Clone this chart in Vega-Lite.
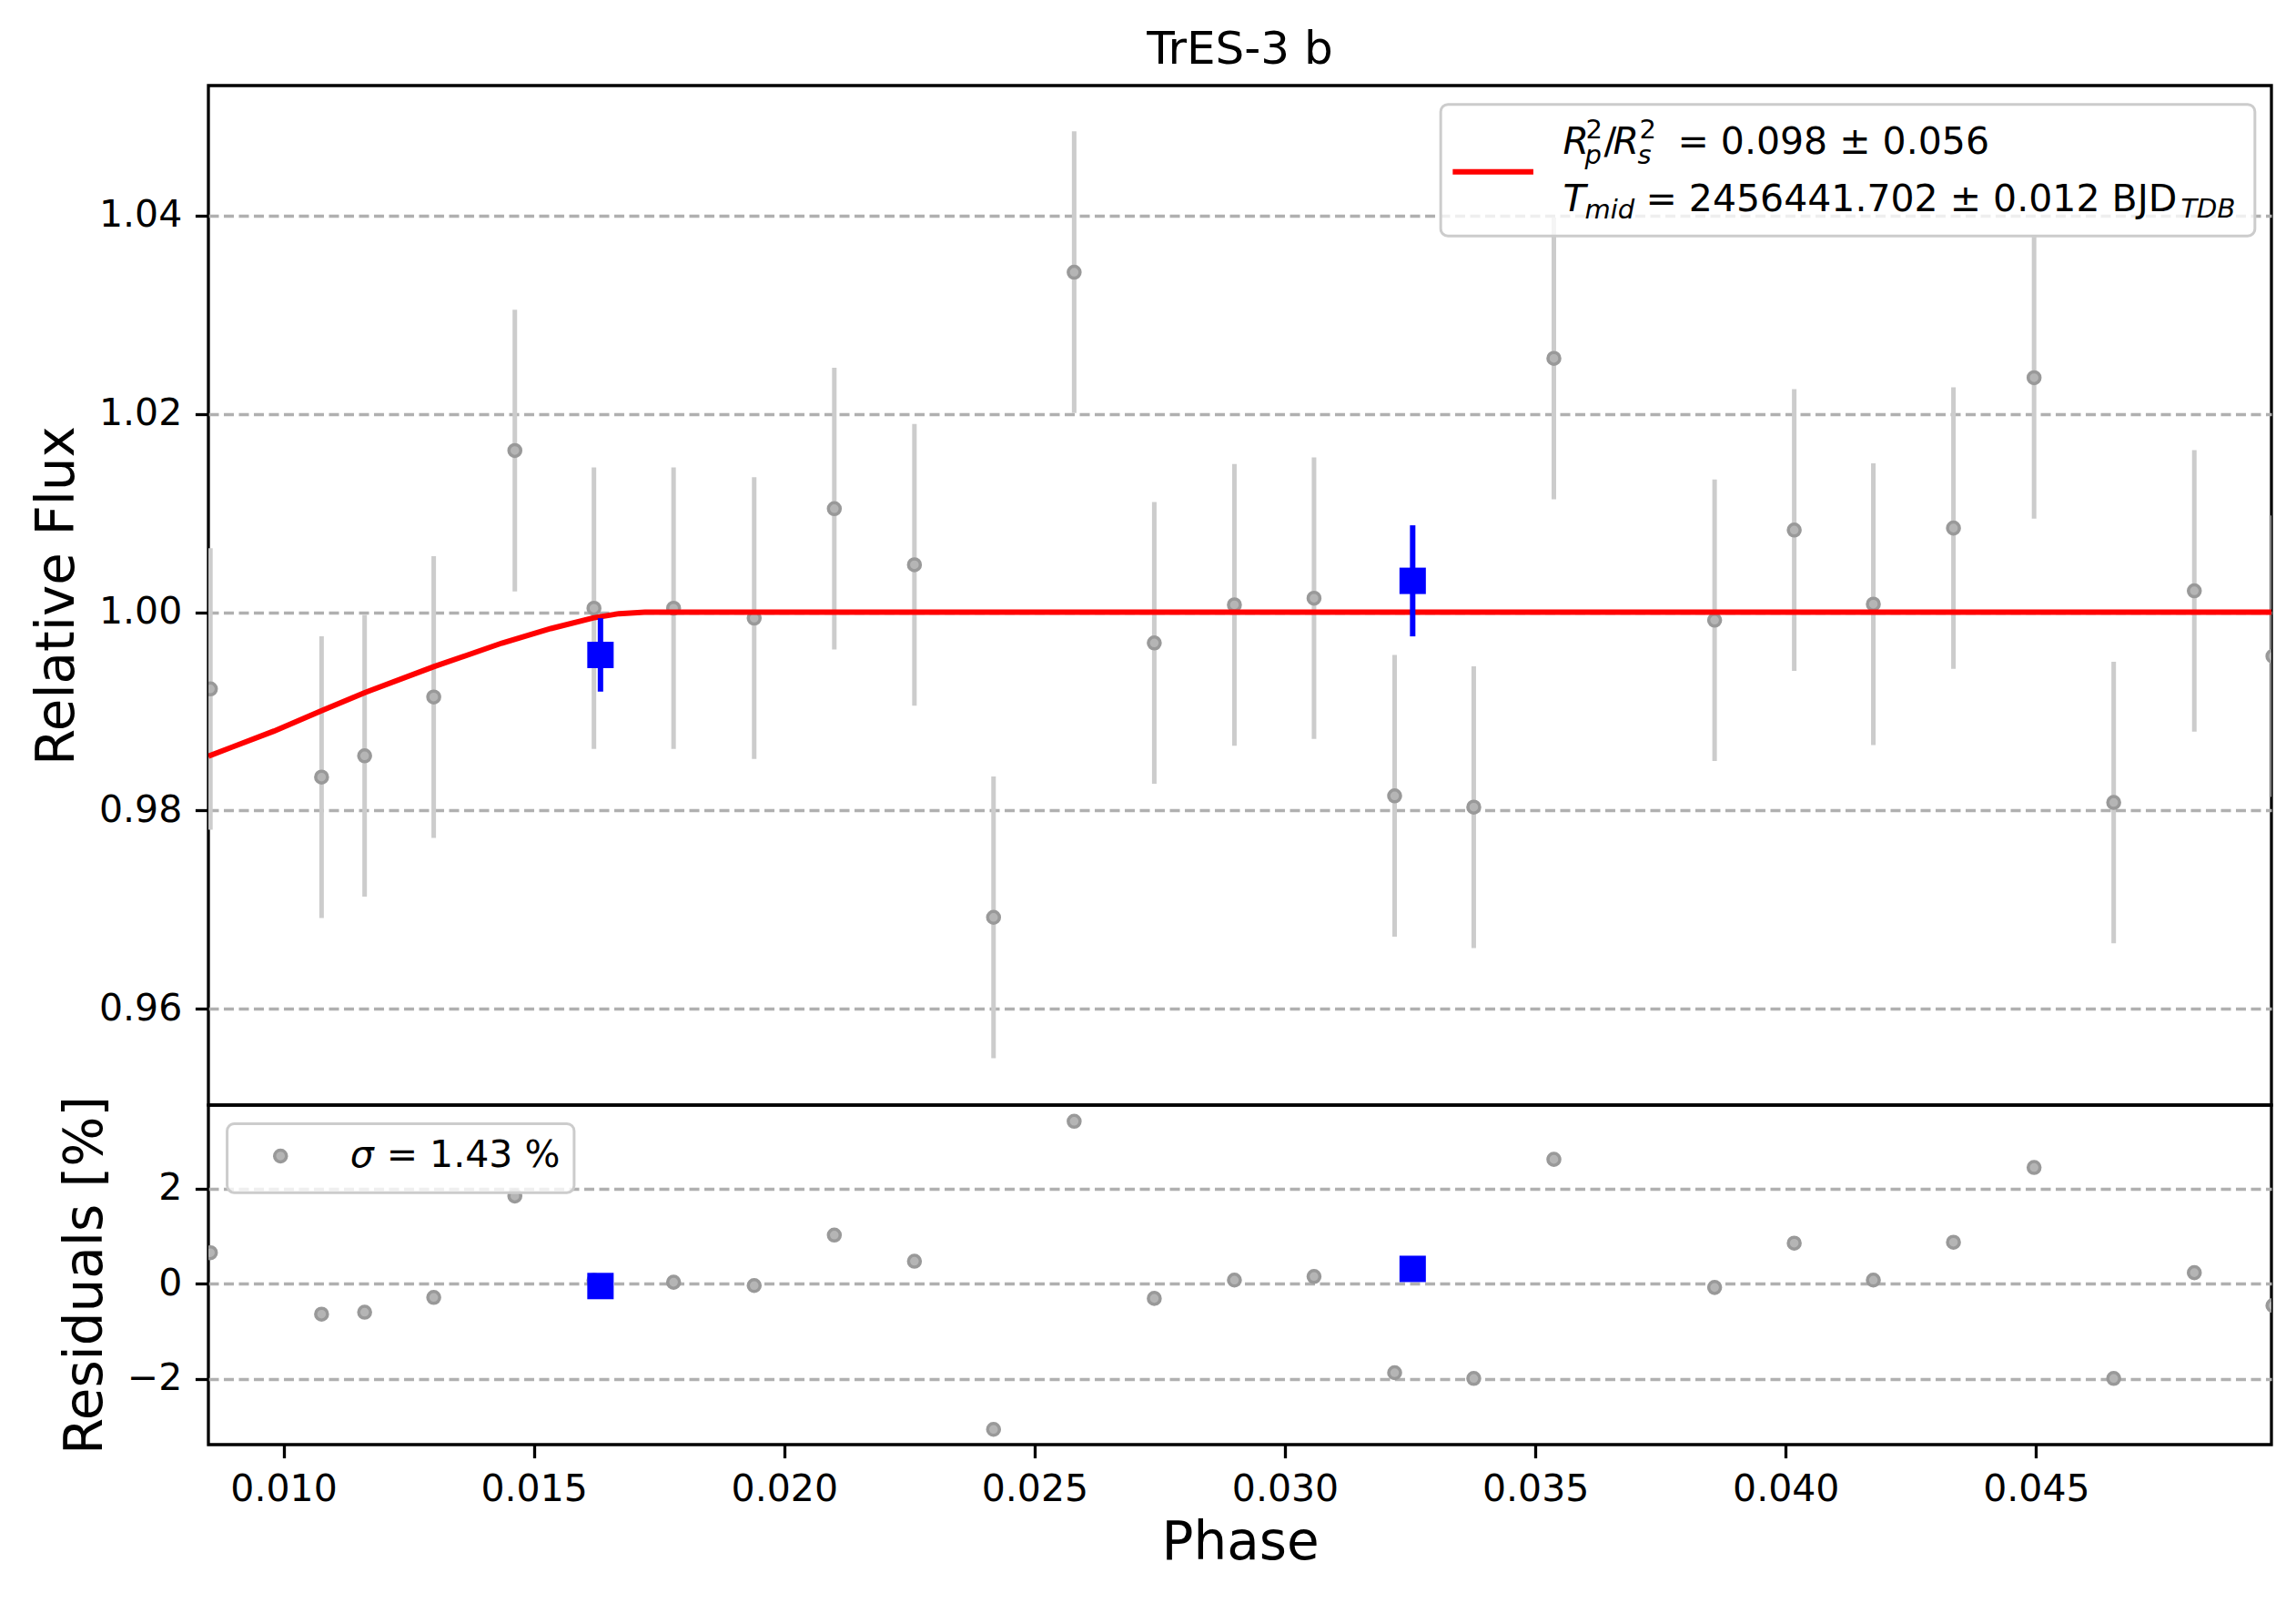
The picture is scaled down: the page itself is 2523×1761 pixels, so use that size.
{
  "$schema": "https://vega.github.io/schema/vega-lite/v6.json",
  "background": "white",
  "padding": {"left": 32, "top": 28, "right": 29, "bottom": 20},
  "spacing": 0,
  "bounds": "flush",
  "datasets": {
    "obs": [
      {"phase": 0.00854, "flux": 0.99226, "err": 0.0142, "res": 0.65},
      {"phase": 0.01076, "flux": 0.98337, "err": 0.0142, "res": -0.64},
      {"phase": 0.01162, "flux": 0.98552, "err": 0.0142, "res": -0.60},
      {"phase": 0.01300, "flux": 0.99145, "err": 0.0142, "res": -0.29},
      {"phase": 0.01462, "flux": 1.01630, "err": 0.0142, "res": 1.84},
      {"phase": 0.01620, "flux": 1.00040, "err": 0.0142, "res": 0.07},
      {"phase": 0.01779, "flux": 1.00040, "err": 0.0142, "res": 0.03},
      {"phase": 0.01940, "flux": 0.99940, "err": 0.0142, "res": -0.04},
      {"phase": 0.02100, "flux": 1.01044, "err": 0.0142, "res": 1.02},
      {"phase": 0.02260, "flux": 1.00478, "err": 0.0142, "res": 0.47},
      {"phase": 0.02418, "flux": 0.96923, "err": 0.0142, "res": -3.06},
      {"phase": 0.02579, "flux": 1.03428, "err": 0.0142, "res": 3.41},
      {"phase": 0.02739, "flux": 0.99690, "err": 0.0142, "res": -0.31},
      {"phase": 0.02899, "flux": 1.00074, "err": 0.0142, "res": 0.075},
      {"phase": 0.03058, "flux": 1.00141, "err": 0.0142, "res": 0.15},
      {"phase": 0.03219, "flux": 0.98148, "err": 0.0142, "res": -1.87},
      {"phase": 0.03377, "flux": 0.98034, "err": 0.0142, "res": -1.99},
      {"phase": 0.03537, "flux": 1.02559, "err": 0.0142, "res": 2.61},
      {"phase": 0.03858, "flux": 0.99919, "err": 0.0142, "res": -0.08},
      {"phase": 0.04017, "flux": 1.00828, "err": 0.0142, "res": 0.85},
      {"phase": 0.04175, "flux": 1.00081, "err": 0.0142, "res": 0.075},
      {"phase": 0.04335, "flux": 1.00848, "err": 0.0142, "res": 0.87},
      {"phase": 0.04496, "flux": 1.02364, "err": 0.0142, "res": 2.44},
      {"phase": 0.04655, "flux": 0.98081, "err": 0.0142, "res": -1.99},
      {"phase": 0.04816, "flux": 1.00215, "err": 0.0142, "res": 0.23},
      {"phase": 0.04973, "flux": 0.99556, "err": 0.0142, "res": -0.46}
    ],
    "binned": [
      {"phase": 0.01633, "flux": 0.99569, "err": 0.0037, "res": -0.05},
      {"phase": 0.03255, "flux": 1.00316, "err": 0.0056, "res": 0.31}
    ],
    "model": [
      {"phase": 0.00850, "flux": 0.98548},
      {"phase": 0.00981, "flux": 0.98801},
      {"phase": 0.01076, "flux": 0.99006},
      {"phase": 0.01163, "flux": 0.99190},
      {"phase": 0.01300, "flux": 0.99450},
      {"phase": 0.01436, "flux": 0.99688},
      {"phase": 0.01534, "flux": 0.99835},
      {"phase": 0.01618, "flux": 0.99942},
      {"phase": 0.01670, "flux": 0.99985},
      {"phase": 0.01722, "flux": 1.00000},
      {"phase": 0.04970, "flux": 1.00000}
    ],
    "topLegendBox": [
      {"phase": 0.03311, "phase2": 0.04937, "flux": 1.0512, "flux2": 1.03794}
    ],
    "topLegendLine": [
      {"phase": 0.03335, "phase2": 0.03496, "flux": 1.0444}
    ],
    "topLegendText": [
      {"line": 1, "phase": 0.03555, "flux": 1.0473},
      {"line": 2, "phase": 0.03555, "flux": 1.04156}
    ],
    "resLegendBox": [
      {"phase": 0.008874, "phase2": 0.015804, "res": 3.36, "res2": 1.91}
    ],
    "resLegendDot": [
      {"phase": 0.00994, "res": 2.68}
    ],
    "resLegendText": [
      {"phase": 0.01133, "res": 2.68}
    ]
  },
  "vconcat": [
    {
      "width": 2267,
      "height": 1120,
      "title": {
        "text": "TrES-3 b",
        "frame": "group",
        "anchor": "middle",
        "baseline": "bottom",
        "offset": -36,
        "fontSize": 50,
        "fontWeight": "normal",
        "font": "DejaVu Sans",
        "color": "black"
      },
      "encoding": {
        "x": {
          "field": "phase",
          "type": "quantitative",
          "scale": {"domain": [0.0085, 0.0497], "nice": false, "zero": false},
          "axis": null
        },
        "y": {
          "field": "flux",
          "type": "quantitative",
          "title": "Relative Flux",
          "scale": {"domain": [0.9503, 1.0531], "nice": false, "zero": false},
          "axis": {"values": [0.96, 0.98, 1.0, 1.02, 1.04], "format": ".2f"}
        }
      },
      "layer": [
        {
          "data": {"name": "obs"},
          "mark": {"type": "errorbar", "color": "#cccccc", "thickness": 5, "clip": true},
          "encoding": {"yError": {"field": "err"}}
        },
        {
          "data": {"name": "obs"},
          "mark": {"type": "point", "shape": "circle", "filled": true, "fill": "#b5b5b5", "stroke": "#999999", "strokeWidth": 3.5, "size": 170, "opacity": 1, "clip": true}
        },
        {
          "data": {"name": "model"},
          "mark": {"type": "line", "color": "#ff0000", "strokeWidth": 6, "clip": true}
        },
        {
          "data": {"name": "binned"},
          "mark": {"type": "errorbar", "color": "#0000ff", "thickness": 6},
          "encoding": {"yError": {"field": "err"}}
        },
        {
          "data": {"name": "binned"},
          "mark": {"type": "square", "color": "#0000ff", "size": 841, "opacity": 1}
        },
        {
          "data": {"name": "topLegendBox"},
          "mark": {"type": "rect", "fill": "white", "fillOpacity": 0.8, "stroke": "#cccccc", "strokeWidth": 3, "cornerRadius": 8},
          "encoding": {"x2": {"field": "phase2"}, "y2": {"field": "flux2"}}
        },
        {
          "data": {"name": "topLegendLine"},
          "mark": {"type": "rule", "color": "#ff0000", "strokeWidth": 6},
          "encoding": {"x2": {"field": "phase2"}}
        },
        {
          "data": {"name": "topLegendText"},
          "transform": [{"filter": "datum.line == 1"}],
          "layer": [
            {"mark": {"type": "text", "text": "R", "align": "left", "baseline": "middle", "fontSize": 41, "fontStyle": "italic"}},
            {"mark": {"type": "text", "text": "2", "align": "left", "baseline": "middle", "fontSize": 29, "dx": 25, "dy": -14}},
            {"mark": {"type": "text", "text": "p", "align": "left", "baseline": "middle", "fontSize": 29, "fontStyle": "italic", "dx": 24, "dy": 14}},
            {"mark": {"type": "text", "text": "/", "align": "left", "baseline": "middle", "fontSize": 41, "dx": 45}},
            {"mark": {"type": "text", "text": "R", "align": "left", "baseline": "middle", "fontSize": 41, "fontStyle": "italic", "dx": 55}},
            {"mark": {"type": "text", "text": "2", "align": "left", "baseline": "middle", "fontSize": 29, "dx": 84, "dy": -14}},
            {"mark": {"type": "text", "text": "s", "align": "left", "baseline": "middle", "fontSize": 29, "fontStyle": "italic", "dx": 82, "dy": 14}},
            {"mark": {"type": "text", "text": "= 0.098 ± 0.056", "align": "left", "baseline": "middle", "fontSize": 41, "dx": 126}}
          ]
        },
        {
          "data": {"name": "topLegendText"},
          "transform": [{"filter": "datum.line == 2"}],
          "layer": [
            {"mark": {"type": "text", "text": "T", "align": "left", "baseline": "middle", "fontSize": 41, "fontStyle": "italic"}},
            {"mark": {"type": "text", "text": "mid", "align": "left", "baseline": "middle", "fontSize": 29, "fontStyle": "italic", "dx": 24, "dy": 11}},
            {"mark": {"type": "text", "text": "= 2456441.702 ± 0.012 BJD", "align": "left", "baseline": "middle", "fontSize": 41, "dx": 91}},
            {"mark": {"type": "text", "text": "TDB", "align": "left", "baseline": "middle", "fontSize": 29, "fontStyle": "italic", "dx": 679, "dy": 10}}
          ]
        }
      ]
    },
    {
      "width": 2267,
      "height": 373,
      "encoding": {
        "x": {
          "field": "phase",
          "type": "quantitative",
          "title": "Phase",
          "scale": {"domain": [0.0085, 0.0497], "nice": false, "zero": false},
          "axis": {"values": [0.01, 0.015, 0.02, 0.025, 0.03, 0.035, 0.04, 0.045], "format": ".3f", "titlePadding": 10}
        },
        "y": {
          "field": "res",
          "type": "quantitative",
          "title": "Residuals [%]",
          "scale": {"domain": [-3.38, 3.75], "nice": false, "zero": false},
          "axis": {"values": [-2, 0, 2], "format": "d"}
        }
      },
      "layer": [
        {
          "data": {"name": "obs"},
          "mark": {"type": "point", "shape": "circle", "filled": true, "fill": "#b5b5b5", "stroke": "#999999", "strokeWidth": 3.5, "size": 170, "opacity": 1, "clip": true}
        },
        {
          "data": {"name": "binned"},
          "mark": {"type": "square", "color": "#0000ff", "size": 841, "opacity": 1}
        },
        {
          "data": {"name": "resLegendBox"},
          "mark": {"type": "rect", "fill": "white", "fillOpacity": 0.8, "stroke": "#cccccc", "strokeWidth": 3, "cornerRadius": 8},
          "encoding": {"x2": {"field": "phase2"}, "y2": {"field": "res2"}}
        },
        {
          "data": {"name": "resLegendDot"},
          "mark": {"type": "point", "shape": "circle", "filled": true, "fill": "#b5b5b5", "stroke": "#999999", "strokeWidth": 3.5, "size": 170, "opacity": 1}
        },
        {
          "data": {"name": "resLegendText"},
          "layer": [
            {"mark": {"type": "text", "text": "σ", "align": "left", "baseline": "middle", "fontSize": 41, "fontStyle": "italic"}},
            {"mark": {"type": "text", "text": "= 1.43 %", "align": "left", "baseline": "middle", "fontSize": 41, "dx": 40}}
          ]
        }
      ]
    }
  ],
  "config": {
    "font": "DejaVu Sans",
    "view": {"stroke": "black", "strokeWidth": 3.3},
    "text": {"color": "black", "font": "DejaVu Sans"},
    "axis": {
      "labelFont": "DejaVu Sans",
      "titleFont": "DejaVu Sans",
      "labelFontSize": 41,
      "titleFontSize": 58,
      "titleFontWeight": "normal",
      "labelColor": "black",
      "titleColor": "black",
      "tickColor": "black",
      "tickSize": 14.6,
      "tickWidth": 3.3,
      "labelPadding": 14.6,
      "titlePadding": 16,
      "domain": false,
      "grid": false,
      "labelFlush": false,
      "labelOverlap": false
    },
    "axisY": {
      "grid": true,
      "gridColor": "#b0b0b0",
      "gridDash": [11, 5.5],
      "gridWidth": 3.3
    }
  }
}
